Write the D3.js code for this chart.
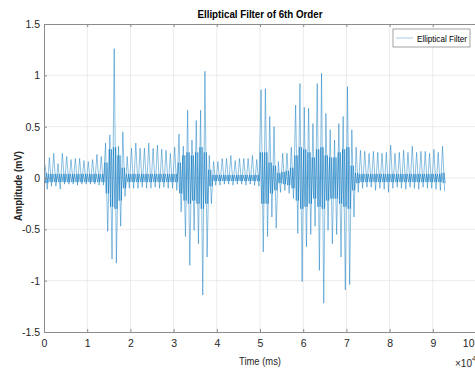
<!DOCTYPE html>
<html>
<head>
<meta charset="utf-8">
<script src="https://cdn.jsdelivr.net/npm/d3@7"></script>
<style>
  body { margin: 0; background: #fff; }
  svg { font-family: 'Liberation Sans', Arial, sans-serif; display: block; }
</style>
</head>
<body>
<svg></svg>
<script>
// signal, one bin per 1000 ms (max / min of each bin)
const binWidth = 1000;
const upper = [0.13, 0.20, 0.24, 0.14, 0.24, 0.21, 0.18, 0.19, 0.19, 0.17,
  0.16, 0.18, 0.23, 0.21, 0.34, 0.42, 1.26, 0.31, 0.45, 0.21,
  0.29, 0.34, 0.29, 0.29, 0.34, 0.29, 0.32, 0.28, 0.27, 0.24,
  0.30, 0.43, 0.31, 0.66, 0.37, 0.56, 0.66, 1.04, 0.22, 0.16,
  0.16, 0.19, 0.19, 0.22, 0.17, 0.19, 0.19, 0.19, 0.22, 0.18,
  0.86, 0.87, 0.60, 0.50, 0.16, 0.24, 0.24, 0.30, 0.71, 0.92,
  0.69, 0.68, 0.53, 0.92, 1.02, 0.63, 0.47, 0.37, 0.53, 0.60,
  0.89, 0.47, 0.30, 0.27, 0.26, 0.24, 0.26, 0.25, 0.24, 0.25,
  0.32, 0.24, 0.25, 0.27, 0.25, 0.31, 0.25, 0.26, 0.26, 0.24,
  0.28, 0.25, 0.31];
const lower = [-0.11, -0.08, -0.08, -0.11, -0.06, -0.06, -0.06, -0.07, -0.06, -0.06,
  -0.06, -0.06, -0.07, -0.07, -0.52, -0.79, -0.83, -0.47, -0.18, -0.10,
  -0.10, -0.10, -0.09, -0.10, -0.10, -0.09, -0.10, -0.09, -0.10, -0.10,
  -0.12, -0.33, -0.57, -0.85, -0.51, -0.64, -1.14, -0.77, -0.25, -0.07,
  -0.07, -0.06, -0.06, -0.07, -0.06, -0.06, -0.07, -0.06, -0.07, -0.08,
  -0.72, -0.57, -0.38, -0.49, -0.14, -0.12, -0.15, -0.20, -0.54, -1.01,
  -0.67, -0.55, -0.47, -0.90, -1.22, -0.51, -0.64, -0.55, -0.77, -1.09,
  -1.04, -0.38, -0.14, -0.10, -0.09, -0.09, -0.12, -0.10, -0.11, -0.14,
  -0.10, -0.09, -0.10, -0.11, -0.09, -0.10, -0.11, -0.09, -0.10, -0.10,
  -0.11, -0.12, -0.13];
// half width of the dense core around zero
const core = [0.05, 0.04, 0.04, 0.04, 0.04, 0.04, 0.04, 0.04, 0.04, 0.04,
  0.04, 0.04, 0.04, 0.04, 0.15, 0.28, 0.30, 0.22, 0.10, 0.04,
  0.04, 0.04, 0.04, 0.04, 0.04, 0.04, 0.04, 0.04, 0.04, 0.04,
  0.04, 0.15, 0.22, 0.25, 0.22, 0.25, 0.30, 0.25, 0.08, 0.03,
  0.03, 0.03, 0.03, 0.03, 0.03, 0.03, 0.03, 0.03, 0.03, 0.03,
  0.25, 0.25, 0.15, 0.12, 0.05, 0.06, 0.07, 0.10, 0.22, 0.30,
  0.28, 0.25, 0.20, 0.28, 0.30, 0.22, 0.20, 0.20, 0.25, 0.28,
  0.30, 0.12, 0.05, 0.04, 0.04, 0.04, 0.04, 0.04, 0.04, 0.04,
  0.04, 0.04, 0.04, 0.04, 0.04, 0.04, 0.04, 0.04, 0.04, 0.04,
  0.04, 0.04, 0.05];

const xTicks = [0, 10000, 20000, 30000, 40000, 50000, 60000, 70000, 80000, 90000, 100000];
const xTickLabels = ['0', '1', '2', '3', '4', '5', '6', '7', '8', '9', '10'];
const yTicks = [-1.5, -1, -0.5, 0, 0.5, 1, 1.5];
const yTickLabels = ['-1.5', '-1', '-0.5', '0', '0.5', '1', '1.5'];

const width = 475, height = 371;
const blue = '#0072BD';

let svg = d3.select('svg')
  .attr('width', width)
  .attr('height', height);

let x = d3.scaleLinear().domain([0, 100000]).range([44, 476]);
let y = d3.scaleLinear().domain([-1.5, 1.5]).range([332, 24]);

// grid
svg.append('g')
  .selectAll('line')
  .data(xTicks.slice(1))
  .enter().append('line')
    .attr('x1', d => x(d)).attr('x2', d => x(d))
    .attr('y1', y(1.5)).attr('y2', y(-1.5))
    .attr('stroke', '#e6e6e6').attr('stroke-width', 0.8);
svg.append('g')
  .selectAll('line')
  .data(yTicks.slice(1, -1))
  .enter().append('line')
    .attr('x1', x(0)).attr('x2', width)
    .attr('y1', d => y(d)).attr('y2', d => y(d))
    .attr('stroke', '#e6e6e6').attr('stroke-width', 0.8);

let line = d3.line().x(d => x(d[0])).y(d => y(d[1]));

// dense core: swings between +core and -core inside each bin
let corePts = [];
core.forEach((c, i) => {
  corePts.push([binWidth * i + binWidth * 0.1, c]);
  corePts.push([binWidth * i + binWidth * 0.4, -c]);
  corePts.push([binWidth * i + binWidth * 0.6, c]);
  corePts.push([binWidth * i + binWidth * 0.9, -c]);
});
svg.append('path')
  .datum(corePts)
  .attr('fill', 'none')
  .attr('stroke', blue)
  .attr('stroke-width', 0.7)
  .attr('opacity', 0.75)
  .attr('d', line);

// signal: max then min of every bin
let pts = [];
upper.forEach((u, i) => {
  pts.push([binWidth * i + binWidth * 0.25, u]);
  pts.push([binWidth * i + binWidth * 0.75, lower[i]]);
});
svg.append('path')
  .datum(pts)
  .attr('fill', 'none')
  .attr('stroke', blue)
  .attr('stroke-width', 0.6)
  .attr('opacity', 0.75)
  .attr('d', line);

// axes
let styleAxis = (g) => {
  g.select('.domain').attr('stroke', '#8c8c8c');
  g.selectAll('.tick line').attr('stroke', '#8c8c8c');
  g.selectAll('.tick text').attr('fill', '#262626').attr('font-size', 10.5);
};
let bottomAxis = svg.append('g')
  .attr('transform', `translate(0,${y(-1.5)})`)
  .call(d3.axisBottom(x).tickValues(xTicks).tickSize(-3).tickPadding(8).tickSizeOuter(0)
    .tickFormat((d, i) => xTickLabels[i]))
  .call(styleAxis);
// last label sits on the window edge: keep it inside
bottomAxis.selectAll('.tick text')
  .filter(d => d === 100000)
  .attr('text-anchor', 'end')
  .attr('x', width - 1 - x(100000));
svg.append('g')
  .attr('transform', `translate(0,${y(1.5)})`)
  .call(d3.axisTop(x).tickValues(xTicks).tickSize(-3).tickSizeOuter(0).tickFormat(''))
  .call(styleAxis);
svg.append('g')
  .attr('transform', `translate(${x(0)},0)`)
  .call(d3.axisLeft(y).tickValues(yTicks).tickSize(-3).tickPadding(4).tickSizeOuter(0)
    .tickFormat((d, i) => yTickLabels[i]))
  .call(styleAxis);

// texts
svg.append('text')
  .attr('x', 260).attr('y', 18)
  .attr('text-anchor', 'middle')
  .attr('font-size', 11).attr('font-weight', 'bold')
  .attr('textLength', 125).attr('lengthAdjust', 'spacingAndGlyphs')
  .attr('fill', '#000')
  .text('Elliptical Filter of 6th Order');
svg.append('text')
  .attr('x', 260).attr('y', 365)
  .attr('text-anchor', 'middle')
  .attr('font-size', 11)
  .attr('textLength', 42).attr('lengthAdjust', 'spacingAndGlyphs')
  .attr('fill', '#262626')
  .text('Time (ms)');
svg.append('text')
  .attr('transform', 'translate(21.5,186) rotate(-90)')
  .attr('text-anchor', 'middle')
  .attr('font-size', 11).attr('font-weight', 'bold')
  .attr('textLength', 70).attr('lengthAdjust', 'spacingAndGlyphs')
  .attr('fill', '#262626')
  .text('Amplitude (mV)');
let expo = svg.append('text')
  .attr('x', 455).attr('y', 367)
  .attr('font-size', 10)
  .attr('fill', '#262626');
expo.append('tspan').text('×10');
expo.append('tspan').attr('dy', -6).attr('font-size', 8).text('4');

// legend
let legend = svg.append('g');
legend.append('rect')
  .attr('x', 393).attr('y', 29).attr('width', 77).attr('height', 18)
  .attr('fill', '#fff').attr('stroke', '#8c8c8c').attr('stroke-width', 0.8);
legend.append('line')
  .attr('x1', 396).attr('x2', 413).attr('y1', 38).attr('y2', 38)
  .attr('stroke', blue).attr('stroke-width', 0.6).attr('opacity', 0.6);
legend.append('text')
  .attr('x', 417).attr('y', 41.5)
  .attr('font-size', 9)
  .attr('textLength', 50).attr('lengthAdjust', 'spacingAndGlyphs')
  .attr('fill', '#000')
  .text('Elliptical Filter');
</script>
</body>
</html>
